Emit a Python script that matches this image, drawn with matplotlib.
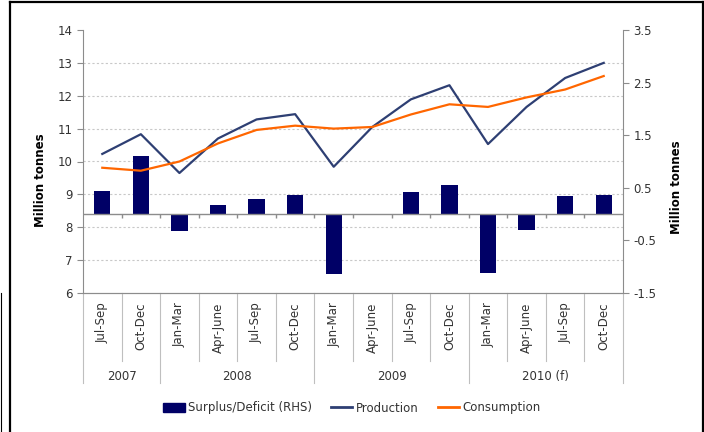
import matplotlib.pyplot as plt
from matplotlib.lines import Line2D
from matplotlib.patches import Patch
import numpy as np

quarters = ["Jul-Sep", "Oct-Dec",
            "Jan-Mar", "Apr-June", "Jul-Sep", "Oct-Dec",
            "Jan-Mar", "Apr-June", "Jul-Sep", "Oct-Dec",
            "Jan-Mar", "Apr-June", "Jul-Sep", "Oct-Dec"]
years = ["2007", "2008", "2009", "2010 (f)"]
year_spans = [2, 4, 4, 4]

surplus = [0.44, 1.10, -0.33, 0.17, 0.28, 0.37, -1.14,
           -0.02, 0.42, 0.56, -1.12, -0.30, 0.34, 0.36]
production = [10.23, 10.83, 9.65, 10.70, 11.28, 11.44, 9.84,
              11.05, 11.89, 12.32, 10.53, 11.66, 12.54, 13.0]
consumption = [9.81, 9.72, 10.0, 10.55, 10.96, 11.09, 11.0,
               11.05, 11.43, 11.74, 11.66, 11.95, 12.19, 12.6]

navy = "#000066"
blue = "#2E3F73"
orange = "#FF6600"
grey = "#8C8C8C"
txt = "#333333"
fs = 8.5

plt.rcParams["font.family"] = "DejaVu Sans"
plt.rcParams["font.size"] = fs

fig = plt.figure(figsize=(7.04, 4.32), dpi=100)
ax1 = fig.add_axes([83 / 704, 1 - 293 / 432, 540 / 704, 263 / 432])
ax2 = ax1.twinx()
ax1.set_zorder(ax2.get_zorder() + 1)
ax1.patch.set_visible(False)

x = np.arange(len(quarters))

# bars on the right-hand scale
ax2.bar(x, surplus, width=0.42, color=navy, zorder=2)
ax2.axhline(0, color=grey, lw=1, zorder=3)
bounds = np.arange(len(quarters) + 1) - 0.5
ax2.vlines(bounds[1:-1], -0.07, 0, color=grey, lw=1, zorder=3)
ax2.set_ylim(-1.5, 3.5)
ax2.set_yticks(np.arange(-1.5, 3.6, 1.0))
ax2.set_yticklabels(["-1.5", "-0.5", "0.5", "1.5", "2.5", "3.5"])

# grid at the left-hand integer levels, drawn below the bars
left_ticks = np.arange(6, 15)
ax2.set_yticks((left_ticks - 6) / 8 * 5 - 1.5, minor=True)
ax2.yaxis.grid(True, which="minor", color="#C8C8C8", ls=(0, (2, 2)), lw=0.8)
ax2.tick_params(axis="y", which="minor", length=0)
ax2.set_axisbelow(True)

# lines on the left-hand scale
ax1.plot(x, production, color=blue, lw=1.6, zorder=4)
ax1.plot(x, consumption, color=orange, lw=1.6, zorder=4)
ax1.set_ylim(6, 14)
ax1.set_yticks(left_ticks)
ax1.set_xlim(-0.5, len(quarters) - 0.5)
ax1.set_xticks([])

for ax in (ax1, ax2):
    ax.spines["top"].set_visible(False)
    for s in ("left", "right", "bottom"):
        ax.spines[s].set_color(grey)
    ax.tick_params(axis="y", which="major", colors=grey, labelcolor=txt,
                   length=4, labelsize=fs)
ax1.spines["right"].set_visible(False)
ax2.spines["left"].set_visible(False)

# category separators and labels under the axis
tr = ax1.get_xaxis_transform()
year_edges = np.concatenate([[0], np.cumsum(year_spans)]) - 0.5
for b in bounds:
    depth = -0.342 if b in year_edges else -0.259
    ax1.add_line(Line2D([b, b], [0, depth], transform=tr, color="#BFBFBF",
                        lw=0.8, clip_on=False))
for i, q in enumerate(quarters):
    ax1.text(i, -0.036, q, transform=tr, rotation=90, ha="center", va="top",
             color=txt, fontsize=fs)
for i, yname in enumerate(years):
    mid = (year_edges[i] + year_edges[i + 1]) / 2
    ax1.text(mid, -0.319, yname, transform=tr, ha="center", va="center",
             color=txt, fontsize=fs)

fig.text(40 / 704, 1 - 180 / 432, "Million tonnes", rotation=90,
         ha="center", va="center", fontweight="bold", fontsize=fs)
fig.text(677 / 704, 1 - 187 / 432, "Million tonnes", rotation=90,
         ha="center", va="center", fontweight="bold", fontsize=fs)

handles = [Patch(color=navy), Line2D([], [], color=blue, lw=2),
           Line2D([], [], color=orange, lw=2)]
fig.legend(handles, ["Surplus/Deficit (RHS)", "Production", "Consumption"],
           loc="center", bbox_to_anchor=(352 / 704, 1 - 408 / 432), ncol=3,
           frameon=False, fontsize=fs, handlelength=1.8, handleheight=0.8,
           handletextpad=0.3, columnspacing=1.6, labelcolor=txt)

# frame around the chart
fig.add_artist(Line2D([10 / 704, 10 / 704], [0, 1 - 1.5 / 432],
                      transform=fig.transFigure, color="black", lw=1.6))
fig.add_artist(Line2D([10 / 704, 703 / 704], [1 - 1.5 / 432, 1 - 1.5 / 432],
                      transform=fig.transFigure, color="black", lw=1.6))
fig.add_artist(Line2D([703 / 704, 703 / 704], [0, 1 - 1.5 / 432],
                      transform=fig.transFigure, color="black", lw=1.6))
fig.add_artist(Line2D([0.5 / 704, 0.5 / 704], [0, 1 - 293 / 432],
                      transform=fig.transFigure, color="black", lw=0.8))

fig.savefig("out.png", dpi=100)
